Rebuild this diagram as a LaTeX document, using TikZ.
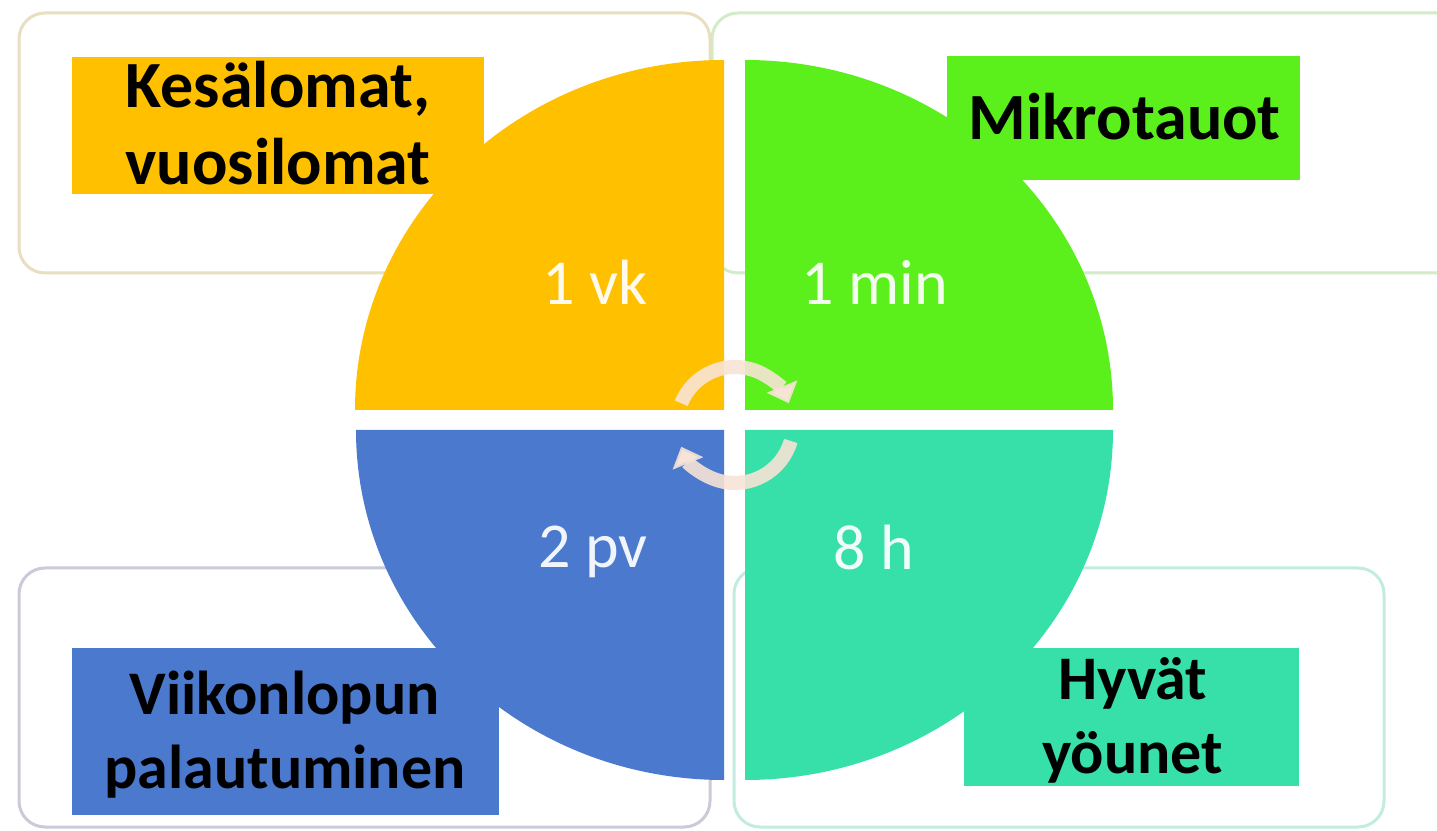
\documentclass[tikz,border=0pt]{standalone}
\usepackage{fontspec}
\setmainfont{Carlito}
\usetikzlibrary{arrows.meta}

\definecolor{cYel}{HTML}{FFC000}
\definecolor{cGrn}{HTML}{5BF01B}
\definecolor{cBlu}{HTML}{4A79CE}
\definecolor{cTeal}{HTML}{36E0A8}
\definecolor{frYel}{HTML}{E8DEC0}
\definecolor{frGrn}{HTML}{D2ECC8}
\definecolor{frBlu}{HTML}{CACAD8}
\definecolor{frTeal}{HTML}{C2ECDF}
\definecolor{cycle}{RGB}{248,228,214}

\tikzset{
  frame/.style={draw=#1, line width=3pt, rounded corners=26pt},
  labelbox/.style={fill=#1, draw=none, inner sep=0pt, rectangle},
  labeltext/.style={inner sep=0pt, anchor=base, text=black,
    font=\fontsize{62pt}{74pt}\selectfont\bfseries},
  bigtext/.style={labeltext, font=\fontsize{66pt}{78pt}\selectfont\bfseries},
  spantext/.style={inner sep=0pt, anchor=base, text=white, text opacity=0.92,
    font=\fontsize{64pt}{76pt}\selectfont},
  cyclearrow/.style={draw=cycle, line width=14pt, draw opacity=0.9,
    -{Triangle[width=32pt,length=18pt]}},
}

\begin{document}
\begin{tikzpicture}[x=1pt, y=1pt]
  \useasboundingbox (0,0) rectangle (1437,830);
  \fill[white] (0,0) rectangle (1437,830);
  \clip (0,0) rectangle (1437,830);

  % outline frames behind the wheel
  \draw[frame=frGrn]  (712,557) rectangle (1462,817);
  \draw[frame=frYel]  (19,557) rectangle (710,817);
  \draw[frame=frBlu]  (19,3) rectangle (710,262);
  \draw[frame=frTeal] (734,3) rectangle (1384,262);

  % the four quarters of the wheel
  \fill[cYel]  (724,420) -- (355,420)
     arc[start angle=180, end angle=90, x radius=369, y radius=350] -- cycle;
  \fill[cGrn]  (745,420) -- (745,770)
     arc[start angle=90, end angle=0, x radius=368, y radius=350] -- cycle;
  \fill[cBlu]  (724,400) -- (356,400)
     arc[start angle=180, end angle=270, x radius=368, y radius=350] -- cycle;
  \fill[cTeal] (745,400) -- (1113,400)
     arc[start angle=0, end angle=-90, x radius=368, y radius=350] -- cycle;

  % durations inside the wheel
  \node[spantext] (vk)  at (595,525) {1 vk};
  \node[spantext] (min) at (875,525) {1 min};
  \node[spantext] (pv)  at (593,262) {2 pv};
  \node[spantext] (h)   at (873.5,260) {8 h};

  % circular arrows in the middle
  \coordinate (hub) at (735,405);
  \draw[cyclearrow] ([shift={(158:58)}]hub) arc[start angle=158, end angle=22, radius=58];
  \draw[cyclearrow] ([shift={(-16:58)}]hub) arc[start angle=-16, end angle=-158, radius=58];

  % coloured labels
  \node[labelbox=cYel, minimum width=412pt, minimum height=137pt] (kesa) at (278,704.5) {};
  \node[bigtext] (kesa1) at (278,722) {Kesälomat,};
  \node[bigtext] (kesa2) at (278,645) {vuosilomat};

  \node[labelbox=cGrn, minimum width=353pt, minimum height=124pt] (mikro) at (1123.5,712) {};
  \node[bigtext] (mikro1) at (1124.5,690) {Mikrotauot};

  \node[labelbox=cBlu, minimum width=427pt, minimum height=167pt] (viikko) at (285.5,98.5) {};
  \node[labeltext] (viikko1) at (284.5,115) {Viikonlopun};
  \node[labeltext] (viikko2) at (285,42) {palautuminen};

  \node[labelbox=cTeal, minimum width=335pt, minimum height=138pt] (uni) at (1131.5,113) {};
  \node[labeltext] (uni1) at (1132.5,130) {Hyvät};
  \node[labeltext] (uni2) at (1132.5,57) {yöunet};
\end{tikzpicture}
\end{document}
